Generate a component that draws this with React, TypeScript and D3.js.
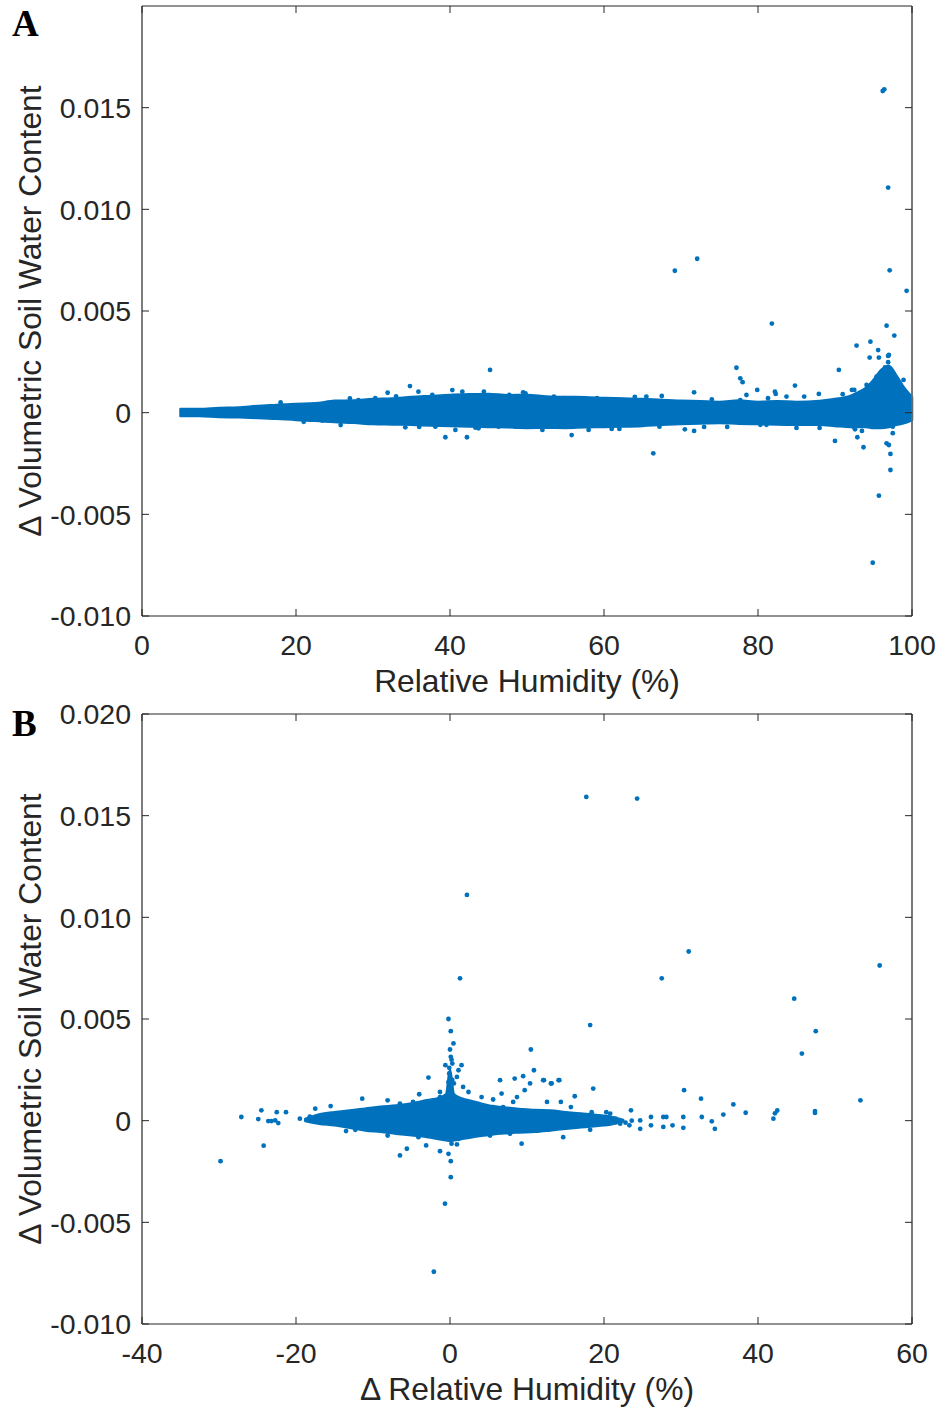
import React from "react";
import * as d3 from "d3";

// ---------- Panel A data (Relative Humidity vs Δ VSWC) ----------
const aXTicks = [0, 20, 40, 60, 80, 100];
const aYTicks = [-0.01, -0.005, 0, 0.005, 0.01, 0.015];
const aYTickLabels = ["-0.010", "-0.005", "0", "0.005", "0.010", "0.015"];

// dense core of the cloud: envelope
const aBandX = [5, 7.5, 10, 12.5, 15, 17.5, 20, 22.5, 25, 27.5, 30, 32.5, 35, 37.5, 40, 42.5, 45, 47.5, 50, 52.5, 55, 57.5, 60, 62.5, 65, 67.5, 70, 72.5, 75, 77.5, 80, 82.5, 85, 88, 90, 92, 93, 94, 95, 96, 97, 98, 99, 100];
const aBandHi = [0.00018, 0.00018, 0.00023, 0.00025, 0.00033, 0.00038, 0.00043, 0.00046, 0.00058, 0.0006, 0.00067, 0.0007, 0.00077, 0.00082, 0.00087, 0.0009, 0.00092, 0.00086, 0.00087, 0.0008, 0.00077, 0.00076, 0.00072, 0.0007, 0.00067, 0.00062, 0.00058, 0.00056, 0.00053, 0.0006, 0.00053, 0.00056, 0.00053, 0.00058, 0.00067, 0.00082, 0.001, 0.00121, 0.00161, 0.0021, 0.0023, 0.0018, 0.00121, 0.00077];
const aBandLo = [-0.00016, -0.00017, -0.00021, -0.00023, -0.00026, -0.0003, -0.00036, -0.0004, -0.00046, -0.0005, -0.00056, -0.00058, -0.0006, -0.00063, -0.00065, -0.00068, -0.0007, -0.00072, -0.00075, -0.00074, -0.00075, -0.00072, -0.0007, -0.00068, -0.00065, -0.0006, -0.00056, -0.00053, -0.00051, -0.00054, -0.00056, -0.00058, -0.0006, -0.0006, -0.00065, -0.0007, -0.0007, -0.0007, -0.00075, -0.00075, -0.0007, -0.0006, -0.00051, -0.00036];

// scattered points
const aPtsX = [96.2, 96.4, 96.9, 72.1, 69.2, 97.1, 99.3, 81.8, 96.7, 97.7, 92.8, 94.6, 95.6, 94.5, 95.7, 96.9, 90.5, 77.2, 77.7, 78.0, 71.7, 79.9, 82.2, 82.3, 84.8, 86, 87.9, 91, 92.2, 92.5, 94.1, 95.4, 96.0, 96.5, 96.9, 97.0, 97.5, 98.4, 98.9, 49.5, 65.5, 67.5, 77.7, 78.5, 81.3, 83.7,
  55.8, 66.4, 70.5, 71.7, 90, 92.9, 93.7, 95.3, 96.7, 97.0, 97.2, 97.2, 95.7, 94.9, 97.5, 97.5, 92.4, 92.6, 80.3, 81.1, 67.2,
  45.2, 34.8, 31.9, 39.4, 42.2, 25.8, 34.2, 23.4, 43.3, 35.9, 37.7, 40.3, 41.6, 44.4, 45.5, 47.7, 49.8, 30.3, 28.1, 38.1, 40.7, 43.7, 46.3, 48.5, 51.3, 53.5, 54.8, 59.1,
  52, 58, 62, 73, 76, 85, 88, 99.6, 99.8, 18, 21, 27, 33, 36, 61, 64, 74, 93.5, 94.8, 98.1, 99.1];
const aPtsY = [0.01582, 0.0159, 0.01107, 0.00757, 0.00698, 0.007, 0.00599, 0.00438, 0.00428, 0.00379, 0.0033, 0.00349, 0.00308, 0.00271, 0.00271, 0.00279, 0.0021, 0.00221, 0.00169, 0.0015, 0.001, 0.00112, 0.00103, 0.00092, 0.00133, 0.00079, 0.00092, 0.00091, 0.00112, 0.00112, 0.00136, 0.00177, 0.00194, 0.00223, 0.00248, 0.00284, 0.00194, 0.00145, 0.00161, 0.001, 0.00079, 0.00082, 0.00062, 0.00087, 0.00071, 0.00079,
  -0.0011, -0.002, -0.00082, -0.0009, -0.00139, -0.00121, -0.0017, -0.0006, -0.00151, -0.00159, -0.00203, -0.00282, -0.00408, -0.00738, -0.00069, -0.00101, -0.00069, -0.00082, -0.0006, -0.0006, -0.00069,
  0.0021, 0.00131, 0.00098, -0.00121, -0.00121, -0.00061, -0.00072, -0.00039, -0.00074, 0.00103, 0.00087, 0.00111, 0.00103, 0.00103, 0.00079, 0.00087, 0.00095, 0.00071, 0.00062, -0.00069, -0.00085, -0.00077, -0.00069, -0.00069, 0.00062, 0.00079, 0.00071, 0.00071,
  -0.00085, -0.00085, -0.0008, -0.0007, -0.0007, -0.00075, -0.00075, 0.0004, -0.0003, 0.0005, -0.00045, 0.0007, 0.0008, -0.0007, -0.0008, 0.00078, 0.00065, -0.0009, 0.0014, 0.0012, 0.0008];

// ---------- Panel B data (Δ Relative Humidity vs Δ VSWC) ----------
const bXTicks = [-40, -20, 0, 20, 40, 60];
const bYTicks = [-0.01, -0.005, 0, 0.005, 0.01, 0.015, 0.02];
const bYTickLabels = ["-0.010", "-0.005", "0", "0.005", "0.010", "0.015", "0.020"];

const bBandX = [-18.8, -17, -15, -13, -11, -9, -7, -5, -3, -1.5, -0.5, 0, 0.5, 1.5, 3, 5, 7, 9, 11, 13, 15, 17, 19, 21, 22.5];
const bBandHi = [0.00008, 0.0003, 0.00042, 0.0005, 0.00059, 0.00068, 0.00075, 0.00085, 0.001, 0.0011, 0.0013, 0.0025, 0.0013, 0.0011, 0.00095, 0.00075, 0.00065, 0.00058, 0.00052, 0.0005, 0.00042, 0.00035, 0.00028, 0.00018, 0.00003];
const bBandLo = [-0.00002, -0.00015, -0.00023, -0.00035, -0.00048, -0.00055, -0.00064, -0.00072, -0.0008, -0.0009, -0.00097, -0.001, -0.00097, -0.0009, -0.0008, -0.0007, -0.00062, -0.00058, -0.00055, -0.00048, -0.0004, -0.00033, -0.00026, -0.00018, -0.00003];

const bPtsX = [17.7, 24.3, 2.2, 31.0, 27.5, 1.3, 55.8, 44.7, 47.5, 45.7, 18.2, 53.3, 47.4, 47.4, 42.2, 42.5,
  30.4, 32.6, 36.8, 38.4, 35.5, 42, 34, 34.4, 32.7, 30.3, 30.3, 27.7, 27.7, 28.1, 28.9, 26.1, 26.1, 24.7, 24.7, 23.5, 23.3, 20.8, 20.6, 18.6, 16.2, 12.2, 13.1, 14.2, 12.6, 14.4, 15.7, 18.4, 20.3, 14.7, 18.2, 22.1,
  -29.8, -27.1, -24.5, -24.9, -23.6, -23.2, -22.7, -22.3, -22.5, -21.3, -24.2, -17.5, -15.5, -11.4, -8.1, -4.0, -2.8, 0.45, 0.1, -0.6, 0.3, 1.1, 1.5, -0.1, 0.9, -0.2, 0.5, 2.4, 1.7, -1.3, 4.1, 5.6, 6.5, 6.7, 8.4, 9.5, 10.4, 10.9, 10.5, 12.1, 13.2, 14.1, 9.7, 8.7, 5.6, 6.9, 8.2,
  -6.5, -5.6, -3.1, -1.3, -0.2, 0.1, 0.1, 0.2, 0.9, 1.1, 0.5, 9.3, -8.1, -4.1, -12.3, -13.5, 3.9, 5.2, 7.8, 11.3, -6.5, -4.8, -2.2, -1.3, -0.65, -2.1,
  -0.2, 0.1, 0.0, 0.2, -0.1, 0.3, 0.0, -19.5, -18.2, -16.8, 21.5, 22.8, 23.6];
const bPtsY = [0.01592, 0.01584, 0.0111, 0.00832, 0.007, 0.007, 0.00763, 0.006, 0.0044, 0.0033, 0.0047, 0.001, 0.00047, 0.00038, 0.00036, 0.0005,
  0.0015, 0.00108, 0.0008, 0.00039, 0.0003, 0.0001, -0.00003, -0.0004, 0.00018, 0.00018, -0.00035, 0.00018, -0.00031, 0.00018, -0.00023, 0.00018, -0.00023, 0.00001, -0.0004, 0.00051, -0.00023, 0.00035, -0.00015, 0.00158, 0.0012, 0.00199, 0.00183, 0.00199, 0.00092, 0.00092, 0.00067, 0.00042, 0.00042, -0.00081, -0.00045, -0.00015,
  -0.00199, 0.00018, 0.00051, 0.00008, -0.00002, -0.00002, 0.00001, -0.00012, 0.00042, 0.00042, -0.00123, 0.00059, 0.00072, 0.00108, 0.001, 0.0013, 0.00212, 0.0038, 0.00314, 0.00273, 0.00281, 0.00248, 0.00273, 0.00232, 0.00215, 0.0019, 0.00183, 0.00141, 0.00166, 0.00141, 0.00116, 0.00104, 0.00199, 0.00133, 0.00207, 0.00219, 0.00183, 0.00248, 0.0035, 0.00199, 0.00183, 0.00199, 0.0015, 0.00116, 0.00067, 0.00067, 0.00092,
  -0.00171, -0.00138, -0.00122, -0.0015, -0.00163, -0.00199, -0.00278, -0.00113, -0.00117, -0.00089, -0.00089, -0.00113, -0.00073, -0.00081, -0.00045, -0.00051, -0.00056, -0.00073, -0.00064, -0.00048, 0.00084, 0.00092, 0.001, 0.00116, -0.00408, -0.00743,
  0.005, 0.0044, 0.0035, 0.003, 0.0026, 0.002, 0.0016, 0.0001, 0.0002, -0.0001, 0.0001, -0.0001, 0.0];

const BLUE = "#0072BD";
const INK = "#262626";
const FONT = "'Liberation Sans', Arial, Helvetica, sans-serif";

type PanelProps = {
  top: number;
  letter: string;
  letterY: number;
  xDomain: [number, number];
  yDomain: [number, number];
  xTicks: number[];
  yTicks: number[];
  yTickLabels: string[];
  xLabel: string;
  bandX: number[];
  bandHi: number[];
  bandLo: number[];
  ptsX: number[];
  ptsY: number[];
};

const LEFT = 142;
const RIGHT = 912;
const H = 610;

function Panel(p: PanelProps) {
  const bottom = p.top + H;
  const x = d3.scaleLinear().domain(p.xDomain).range([LEFT, RIGHT]);
  const y = d3.scaleLinear().domain(p.yDomain).range([bottom, p.top]);
  const band = p.bandX.map((v, i) => ({ x: v, hi: p.bandHi[i], lo: p.bandLo[i] }));
  const area = d3
    .area<{ x: number; hi: number; lo: number }>()
    .x((d) => x(d.x))
    .y0((d) => y(d.lo))
    .y1((d) => y(d.hi))
    .curve(d3.curveMonotoneX);
  const tl = 7;
  return (
    <g>
      <text x={12} y={p.letterY} fontFamily="'Liberation Serif', 'Times New Roman', serif" fontWeight="bold" fontSize={37} fill="#000">
        {p.letter}
      </text>
      <path d={area(band) || ""} fill={BLUE} stroke={BLUE} strokeWidth={2.5} strokeLinejoin="round" />
      {p.ptsX.map((v, i) => (
        <circle key={i} cx={x(v)} cy={y(p.ptsY[i])} r={2.4} fill={BLUE} />
      ))}
      {/* box */}
      <line x1={LEFT} x2={RIGHT} y1={p.top} y2={p.top} stroke={INK} strokeWidth={1.2} />
      <line x1={LEFT} x2={RIGHT} y1={bottom} y2={bottom} stroke={INK} strokeWidth={1.2} />
      <line x1={LEFT} x2={LEFT} y1={p.top} y2={bottom} stroke={INK} strokeWidth={1.2} />
      <line x1={RIGHT} x2={RIGHT} y1={p.top} y2={bottom} stroke="#6a6a6a" strokeWidth={1.8} />
      {/* x ticks */}
      {p.xTicks.map((t) => (
        <g key={"x" + t}>
          <line x1={x(t)} x2={x(t)} y1={bottom} y2={bottom - tl} stroke={INK} strokeWidth={1} />
          <line x1={x(t)} x2={x(t)} y1={p.top} y2={p.top + tl} stroke={INK} strokeWidth={1} />
          <text x={x(t)} y={bottom + 39} textAnchor="middle" fontFamily={FONT} fontSize={28.5} fill={INK}>
            {t}
          </text>
        </g>
      ))}
      {/* y ticks */}
      {p.yTicks.map((t, i) => (
        <g key={"y" + t}>
          <line x1={LEFT} x2={LEFT + tl} y1={y(t)} y2={y(t)} stroke={INK} strokeWidth={1} />
          <line x1={RIGHT} x2={RIGHT - tl} y1={y(t)} y2={y(t)} stroke={INK} strokeWidth={1} />
          <text x={131} y={y(t)} dy="0.36em" textAnchor="end" fontFamily={FONT} fontSize={28.5} fill={INK}>
            {p.yTickLabels[i]}
          </text>
        </g>
      ))}
      <text x={(LEFT + RIGHT) / 2} y={bottom + 76} textAnchor="middle" fontFamily={FONT} fontSize={31.8} fill={INK}>
        {p.xLabel}
      </text>
      <text
        transform={`translate(41, ${(p.top + bottom) / 2}) rotate(-90)`}
        textAnchor="middle"
        fontFamily={FONT}
        fontSize={31.8}
        fill={INK}
      >
        Δ Volumetric Soil Water Content
      </text>
    </g>
  );
}

export default function App() {
  return (
    <svg width={940} height={1409} style={{ position: "absolute", left: 0, top: 0, background: "#fff" }}>
      <rect x={0} y={0} width={940} height={1409} fill="#fff" />
      <Panel
        top={6}
        letter="A"
        letterY={36}
        xDomain={[0, 100]}
        yDomain={[-0.01, 0.02]}
        xTicks={aXTicks}
        yTicks={aYTicks}
        yTickLabels={aYTickLabels}
        xLabel="Relative Humidity (%)"
        bandX={aBandX}
        bandHi={aBandHi}
        bandLo={aBandLo}
        ptsX={aPtsX}
        ptsY={aPtsY}
      />
      <Panel
        top={714}
        letter="B"
        letterY={736}
        xDomain={[-40, 60]}
        yDomain={[-0.01, 0.02]}
        xTicks={bXTicks}
        yTicks={bYTicks}
        yTickLabels={bYTickLabels}
        xLabel="Δ Relative Humidity (%)"
        bandX={bBandX}
        bandHi={bBandHi}
        bandLo={bBandLo}
        ptsX={bPtsX}
        ptsY={bPtsY}
      />
    </svg>
  );
}
